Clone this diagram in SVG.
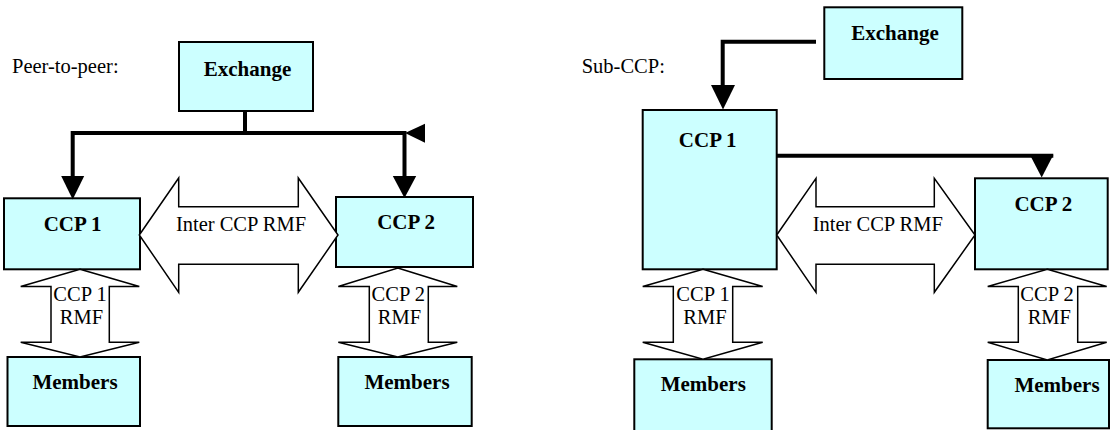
<svg xmlns="http://www.w3.org/2000/svg" width="1111" height="430" viewBox="0 0 1111 430">
<style>
.box{fill:#ccffff;stroke:#000;stroke-width:2}
.blk{fill:#fff;stroke:#000;stroke-width:1.5;stroke-linejoin:miter}
.con{fill:none;stroke:#000;stroke-width:4;stroke-linejoin:miter}
.head{fill:#000;stroke:none}
.b{font-family:"Liberation Serif","Times New Roman",serif;font-weight:bold;font-size:21px;text-anchor:middle;fill:#000}
.r{font-family:"Liberation Serif","Times New Roman",serif;font-size:20.5px;fill:#000}
.m{text-anchor:middle}
</style>
<rect width="1111" height="430" fill="#fff"/>
<text class="r" x="12" y="73">Peer-to-peer:</text>
<text class="r" x="581.7" y="72.7">Sub-CCP:</text>

<g id="p2p-exchange"><rect class="box" x="179" y="42" width="134" height="69"/><text class="b" x="247.5" y="76">Exchange</text></g>
<g id="p2p-ccp1"><rect class="box" x="4" y="198.3" width="136" height="71"/><text class="b" x="72.5" y="231">CCP 1</text></g>
<g id="p2p-ccp2"><rect class="box" x="336" y="197" width="137" height="70"/><text class="b" x="406" y="228.5">CCP 2</text></g>
<g id="p2p-members1"><rect class="box" x="7.5" y="357" width="132.5" height="69"/><text class="b" x="75" y="388.5">Members</text></g>
<g id="p2p-members2"><rect class="box" x="338.3" y="357" width="133.4" height="69"/><text class="b" x="407" y="388.5">Members</text></g>

<g id="sub-exchange"><rect class="box" x="824.3" y="7.3" width="138" height="71.7"/><text class="b" x="895" y="40">Exchange</text></g>
<g id="sub-ccp1"><rect class="box" x="642.7" y="110" width="134" height="159.3"/><text class="b" x="707.7" y="147.3">CCP 1</text></g>
<g id="sub-ccp2"><rect class="box" x="975" y="178.3" width="132.7" height="91"/><text class="b" x="1043.3" y="210.7">CCP 2</text></g>
<g id="sub-members1"><rect class="box" x="634.3" y="359.3" width="137.4" height="80"/><text class="b" x="703.3" y="391">Members</text></g>
<g id="sub-members2"><rect class="box" x="987.7" y="360" width="121.3" height="68.3"/><text class="b" x="1057" y="391.7">Members</text></g>

<g id="connectors">
<path class="con" d="M245,111 V133"/>
<path class="con" d="M245,133 H72.7 V177"/>
<path class="con" d="M245,133 H404.5 V177"/>
<polygon class="head" points="61.2,176 84.2,176 72.7,199.5"/>
<polygon class="head" points="392.8,176 416.2,176 404.5,198"/>
<polygon class="head" points="405,133 425,123.7 425,142.7"/>
<path class="con" d="M816,41.7 H722.7 V86"/>
<polygon class="head" points="711,85 735,85 723,109.5"/>
<path class="con" d="M776.7,155.7 H1053.3"/>
<polygon class="head" points="1030,155 1053.3,155 1041.7,177.5"/>

<g id="inter-rmf-p2p"><polygon class="blk" points="139.3,235 178.7,178 178.7,206.7 298.3,206.7 298.3,178 338,235 298.3,292.3 298.3,264.3 178.7,264.3 178.7,292.3"/><text class="r m" x="241" y="231">Inter CCP RMF</text></g>
<g id="inter-rmf-sub"><polygon class="blk" points="776.7,235 816,178.3 816,206.7 934.3,206.7 934.3,178.3 975,235 934.3,292.3 934.3,264.3 816,264.3 816,292.3"/><text class="r m" x="877.8" y="231">Inter CCP RMF</text></g>

<g id="rmf-p2p-1"><polygon class="blk" points="80,269.3 139.3,286.5 109.3,286.5 109.3,342.3 139.3,342.3 80,357 20.7,342.3 51,342.3 51,286.5 20.7,286.5"/><text class="r m" x="80" y="301">CCP 1</text><text class="r m" x="81.5" y="324.3">RMF</text></g>
<g id="rmf-p2p-2"><polygon class="blk" points="397.8,268 457.3,286.5 428.3,286.5 428.3,342.3 457.3,342.3 397.8,357 338.3,342.3 369.3,342.3 369.3,286.5 338.3,286.5"/><text class="r m" x="398.3" y="301">CCP 2</text><text class="r m" x="399.5" y="324.3">RMF</text></g>
<g id="rmf-sub-1"><polygon class="blk" points="703,269.3 762.7,286.5 732.7,286.5 732.7,342.3 762.7,342.3 703,359.3 642.7,342.3 673.3,342.3 673.3,286.5 642.7,286.5"/><text class="r m" x="703" y="301">CCP 1</text><text class="r m" x="705" y="324.3">RMF</text></g>
<g id="rmf-sub-2"><polygon class="blk" points="1047.3,269.3 1106.7,286.5 1077.7,286.5 1077.7,342.3 1106.7,342.3 1047.3,360 987.7,342.3 1018.3,342.3 1018.3,286.5 987.7,286.5"/><text class="r m" x="1047" y="301">CCP 2</text><text class="r m" x="1049.3" y="324.3">RMF</text></g>
</g>
</svg>
